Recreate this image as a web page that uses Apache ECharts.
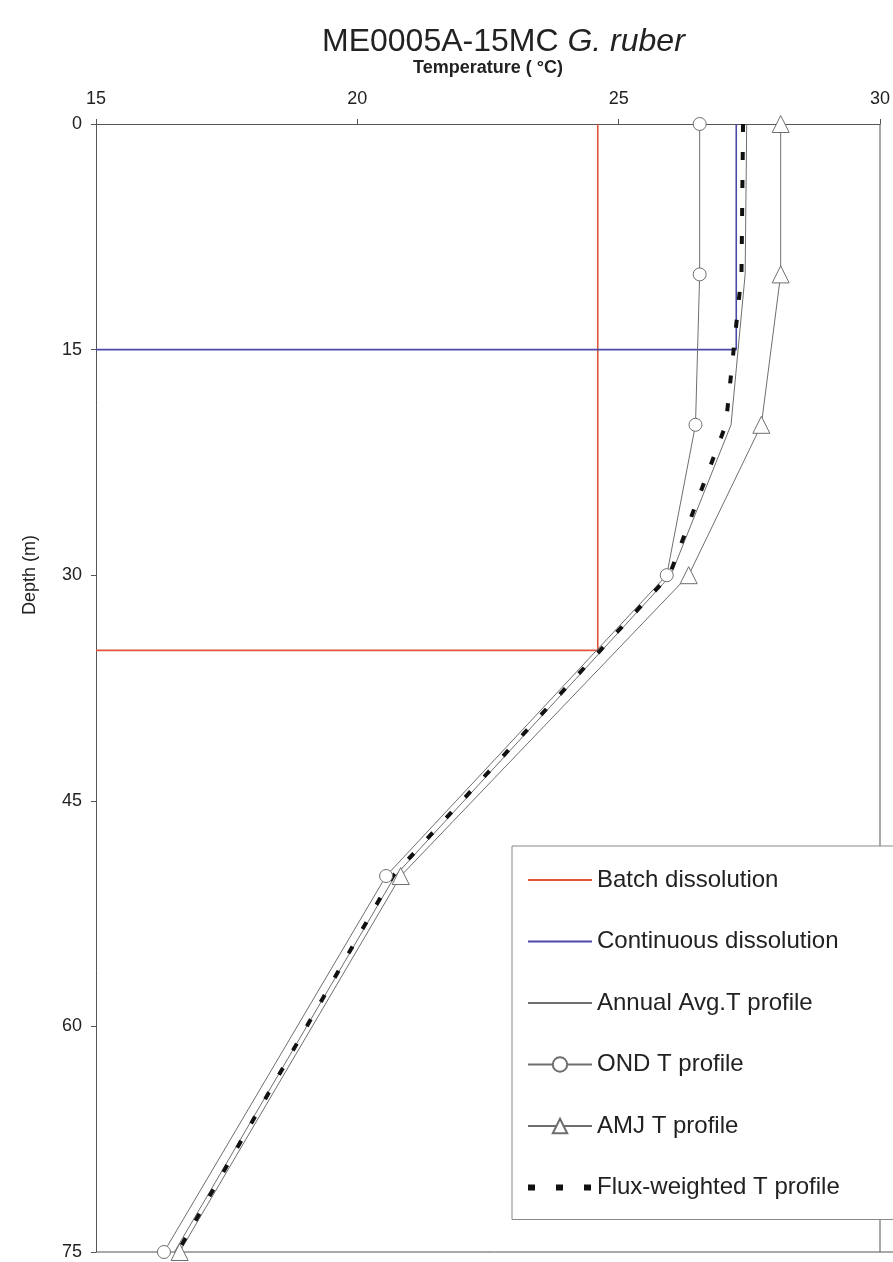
<!DOCTYPE html>
<html>
<head>
<meta charset="utf-8">
<script src="https://cdn.jsdelivr.net/npm/echarts@6/dist/echarts.min.js"></script>
<style>
html,body{margin:0;padding:0;background:#fff;}
#c{width:893px;height:1262px;}
</style>
</head>
<body>
<div id="c"></div>
<script>
// Data
const depths = [0, 10, 20, 30, 50, 75];
const ondT = [26.55, 26.55, 26.47, 25.92, 20.55, 16.3];
const amjT = [28.1, 28.1, 27.73, 26.34, 20.83, 16.6];
const annualT = [27.45, 27.42, 27.15, 26.0, 20.72, 16.5];
const fluxT = [27.38, 27.35, 27.05, 25.97, 20.68, 16.56];
const batchT = 24.6, batchDepth = 35;
const contT = 27.25, contDepth = 15;
const xMin = 15, xMax = 30, xStep = 5;
const yMin = 0, yMax = 75, yStep = 15;
const seriesNames = ['Batch dissolution','Continuous dissolution','Annual Avg.T profile','OND T profile','AMJ T profile','Flux-weighted T profile'];
const noSymbolSeries = [0, 1, 2, 5];

const pairs = arr => arr.map((t, i) => [t, depths[i]]);
const stepLine = (t, d) => [[xMin, d], [t, d], [t, yMin]];

const chart = echarts.init(document.getElementById('c'), null, {renderer: 'canvas'});
const font = '"Liberation Sans", Arial, sans-serif';
const gray = '#6e6e6e';
const hidden = 'rgba(0,0,0,0)';
chart.setOption({
  animation: false,
  textStyle: {fontFamily: font},
  title: {
    text: 'ME0005A-15MC {i|G. ruber}',
    left: 317, top: 21,
    textStyle: {fontFamily: font, fontSize: 32, fontWeight: 'normal', color: '#222',
      rich: {i: {fontFamily: font, fontSize: 32, fontStyle: 'italic', color: '#222'}}}
  },
  grid: {left: 96, right: 13, top: 124, bottom: 10},
  xAxis: {
    type: 'value', position: 'top', min: xMin, max: xMax, interval: xStep,
    name: 'Temperature ( \u00b0C)', nameLocation: 'middle', nameGap: 47,
    nameTextStyle: {fontFamily: font, fontSize: 18, fontWeight: 'bold', color: '#222'},
    axisLine: {show: true, lineStyle: {color: '#555', width: 1}},
    axisTick: {show: true, length: 5, lineStyle: {color: '#555'}},
    axisLabel: {fontSize: 18, color: '#222', margin: 16},
    splitLine: {show: false}
  },
  yAxis: {
    type: 'value', inverse: true, min: yMin, max: yMax, interval: yStep,
    axisLine: {show: true, lineStyle: {color: '#555', width: 1}},
    axisTick: {show: true, length: 5, lineStyle: {color: '#555'}},
    axisLabel: {fontSize: 18, color: '#222', margin: 14},
    splitLine: {show: false}
  },
  legend: {
    orient: 'vertical', left: 512, top: 846,
    data: seriesNames.map((n, i) => {
      if (i === 5) return {name: n, itemStyle: {color: hidden, borderColor: hidden, opacity: 0},
                           lineStyle: {color: '#111', width: 6, type: [7, 21]}};
      if (noSymbolSeries.includes(i)) return {name: n, itemStyle: {color: hidden, borderColor: hidden, opacity: 0}};
      return {name: n};
    }),
    itemWidth: 64, itemHeight: 18, itemGap: 37.5,
    padding: [22, 100, 20, 13],
    borderColor: '#888', borderWidth: 1, backgroundColor: '#fff',
    textStyle: {fontFamily: font, fontSize: 24, color: '#222'},
    selectedMode: false
  },
  graphic: [
    {type: 'line', shape: {x1: 880, y1: 124, x2: 880, y2: 1252}, style: {stroke: '#555', lineWidth: 1}, z: 0},
    {type: 'line', shape: {x1: 96, y1: 1252, x2: 893, y2: 1252}, style: {stroke: '#555', lineWidth: 1}, z: 0},
    {type: 'text', x: 30, y: 575, rotation: Math.PI / 2,
     style: {text: 'Depth (m)', fontFamily: font, fontSize: 18, fill: '#222', textAlign: 'center', textVerticalAlign: 'middle'}}
  ],
  series: [
    {name: seriesNames[0], type: 'line', data: stepLine(batchT, batchDepth), symbol: 'none',
     lineStyle: {color: '#e0553a', width: 1.6}, itemStyle: {color: '#e0553a'}},
    {name: seriesNames[1], type: 'line', data: stepLine(contT, contDepth), symbol: 'none',
     lineStyle: {color: '#4a48a8', width: 1.6}, itemStyle: {color: '#4a48a8'}},
    {name: seriesNames[2], type: 'line', data: pairs(annualT), symbol: 'none',
     lineStyle: {color: gray, width: 1}, itemStyle: {color: gray}},
    {name: seriesNames[3], type: 'line', data: pairs(ondT), symbol: 'circle', symbolSize: 13,
     lineStyle: {color: gray, width: 1}, itemStyle: {color: '#fff', borderColor: gray, borderWidth: 1}},
    {name: seriesNames[4], type: 'line', data: pairs(amjT), symbol: 'triangle', symbolSize: 17,
     lineStyle: {color: gray, width: 1}, itemStyle: {color: '#fff', borderColor: gray, borderWidth: 1}},
    {name: seriesNames[5], type: 'line', data: pairs(fluxT), symbol: 'none',
     lineStyle: {color: '#111', width: 4, type: [8, 20]}, itemStyle: {color: '#111'}}
  ]
});
</script>
</body>
</html>
